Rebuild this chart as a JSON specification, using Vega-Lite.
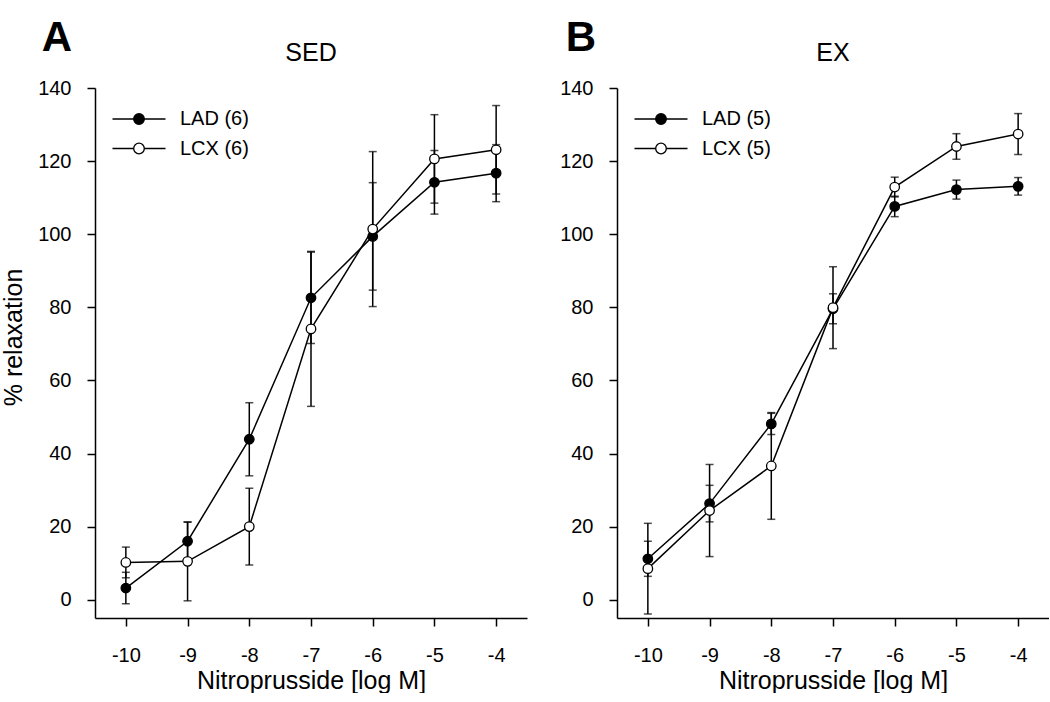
{
  "$schema": "https://vega.github.io/schema/vega-lite/v6.json",
  "padding": {"left": 1, "top": 17, "right": 0, "bottom": 0},
  "background": "white",
  "config": {
    "font": "Liberation Sans",
    "view": {"stroke": null},
    "axis": {
      "grid": false,
      "domainColor": "black",
      "domainWidth": 1.5,
      "tickColor": "black",
      "tickWidth": 1.5,
      "tickSize": 8,
      "labelFontSize": 20,
      "labelColor": "black",
      "labelFont": "Liberation Sans",
      "titleFont": "Liberation Sans",
      "titleFontSize": 25,
      "titleFontWeight": "normal",
      "titleColor": "black"
    },
    "title": {"font": "Liberation Sans", "color": "black"}
  },
  "data": {
    "values": [
      {"panel": "SED", "series": "LAD (6)", "logM": -10, "mean": 3.2, "lo": -1.1, "hi": 7.5},
      {"panel": "SED", "series": "LAD (6)", "logM": -9, "mean": 16.0, "lo": 10.8, "hi": 21.2},
      {"panel": "SED", "series": "LAD (6)", "logM": -8, "mean": 43.9, "lo": 33.9, "hi": 53.9},
      {"panel": "SED", "series": "LAD (6)", "logM": -7, "mean": 82.6, "lo": 70.1, "hi": 95.1},
      {"panel": "SED", "series": "LAD (6)", "logM": -6, "mean": 99.4, "lo": 84.7, "hi": 114.1},
      {"panel": "SED", "series": "LAD (6)", "logM": -5, "mean": 114.2, "lo": 105.5, "hi": 122.9},
      {"panel": "SED", "series": "LAD (6)", "logM": -4, "mean": 116.7, "lo": 108.9, "hi": 124.5},
      {"panel": "SED", "series": "LCX (6)", "logM": -10, "mean": 10.2, "lo": 6.0, "hi": 14.4},
      {"panel": "SED", "series": "LCX (6)", "logM": -9, "mean": 10.5, "lo": -0.3, "hi": 21.3},
      {"panel": "SED", "series": "LCX (6)", "logM": -8, "mean": 20.0, "lo": 9.5, "hi": 30.5},
      {"panel": "SED", "series": "LCX (6)", "logM": -7, "mean": 74.1, "lo": 52.9, "hi": 95.3},
      {"panel": "SED", "series": "LCX (6)", "logM": -6, "mean": 101.4, "lo": 80.2, "hi": 122.6},
      {"panel": "SED", "series": "LCX (6)", "logM": -5, "mean": 120.6, "lo": 108.5, "hi": 132.7},
      {"panel": "SED", "series": "LCX (6)", "logM": -4, "mean": 123.1, "lo": 111.0, "hi": 135.2},
      {"panel": "EX", "series": "LAD (5)", "logM": -10, "mean": 11.2, "lo": 6.4, "hi": 16.0},
      {"panel": "EX", "series": "LAD (5)", "logM": -9, "mean": 26.3, "lo": 21.3, "hi": 31.3},
      {"panel": "EX", "series": "LAD (5)", "logM": -8, "mean": 48.1, "lo": 45.2, "hi": 51.0},
      {"panel": "EX", "series": "LAD (5)", "logM": -7, "mean": 79.6, "lo": 75.5, "hi": 83.7},
      {"panel": "EX", "series": "LAD (5)", "logM": -6, "mean": 107.6, "lo": 104.8, "hi": 110.4},
      {"panel": "EX", "series": "LAD (5)", "logM": -5, "mean": 112.2, "lo": 109.6, "hi": 114.8},
      {"panel": "EX", "series": "LAD (5)", "logM": -4, "mean": 113.1, "lo": 110.7, "hi": 115.5},
      {"panel": "EX", "series": "LCX (5)", "logM": -10, "mean": 8.5, "lo": -3.9, "hi": 20.9},
      {"panel": "EX", "series": "LCX (5)", "logM": -9, "mean": 24.4, "lo": 11.8, "hi": 37.0},
      {"panel": "EX", "series": "LCX (5)", "logM": -8, "mean": 36.6, "lo": 22.0, "hi": 51.2},
      {"panel": "EX", "series": "LCX (5)", "logM": -7, "mean": 79.9, "lo": 68.7, "hi": 91.1},
      {"panel": "EX", "series": "LCX (5)", "logM": -6, "mean": 112.9, "lo": 110.2, "hi": 115.6},
      {"panel": "EX", "series": "LCX (5)", "logM": -5, "mean": 124.0, "lo": 120.5, "hi": 127.5},
      {"panel": "EX", "series": "LCX (5)", "logM": -4, "mean": 127.4, "lo": 121.8, "hi": 133.0}
    ]
  },
  "spacing": 32,
  "resolve": {"scale": {"fill": "independent"}, "legend": {"fill": "independent"}},
  "hconcat": [
    {
      "title": {"text": "A", "anchor": "start", "fontSize": 42, "fontWeight": "bold", "dx": 40, "dy": 23},
      "vconcat": [
        {
          "title": {"text": "SED", "anchor": "middle", "fontSize": 25, "fontWeight": "normal", "offset": 12},
          "width": 432,
          "height": 530,
          "transform": [{"filter": "datum.panel === 'SED'"}],
          "encoding": {
            "x": {"field": "logM", "type": "quantitative",
                  "scale": {"domain": [-10.5, -3.5], "nice": false, "zero": false},
                  "axis": {"values": [-10, -9, -8, -7, -6, -5, -4], "labelExpr": "'' + datum.value", "title": "Nitroprusside [log M]", "labelPadding": 19, "titlePadding": 3}}
          },
          "layer": [
            {"mark": {"type": "rule", "color": "black", "strokeWidth": 1.5},
             "encoding": {"y": {"field": "lo", "type": "quantitative", "scale": {"domain": [-5, 140], "nice": false, "zero": false},
                                "axis": {"values": [0, 10, 20, 30, 40, 50, 60, 70, 80, 90, 100, 110, 120, 130, 140], "labelExpr": "datum.value % 20 === 0 ? '' + datum.value : ''", "title": "% relaxation", "labelPadding": 16, "titlePadding": 11, "titleY": 249}},
                          "y2": {"field": "hi"}}},
            {"mark": {"type": "tick", "orient": "horizontal", "color": "black", "size": 8, "thickness": 1.5},
             "encoding": {"y": {"field": "lo", "type": "quantitative"}}},
            {"mark": {"type": "tick", "orient": "horizontal", "color": "black", "size": 8, "thickness": 1.5},
             "encoding": {"y": {"field": "hi", "type": "quantitative"}}},
            {"mark": {"type": "line", "color": "black", "strokeWidth": 1.5},
             "encoding": {"y": {"field": "mean", "type": "quantitative"}, "detail": {"field": "series"}}},
            {"mark": {"type": "point", "shape": "circle", "filled": true, "stroke": "black", "strokeWidth": 1.3, "size": 90, "opacity": 1},
             "encoding": {
               "y": {"field": "mean", "type": "quantitative"},
               "fill": {"field": "series", "type": "nominal",
                        "scale": {"domain": ["LAD (6)", "LCX (6)"], "range": ["black", "white"]},
                        "legend": {"title": null, "orient": "none", "legendX": 34, "legendY": 21, "padding": 0,
                                   "symbolType": "M-5.3,0L-1.06,0M1.06,0L5.3,0M-1.06,0A1.06,1.06,0,1,0,1.06,0A1.06,1.06,0,1,0,-1.06,0Z",
                                   "symbolSize": 100, "symbolStrokeColor": "black", "symbolStrokeWidth": 1.3, "symbolOpacity": 1,
                                   "labelFontSize": 20, "labelColor": "black", "labelOffset": 31, "rowPadding": 9.5}}
             }}
          ]
        }
      ]
    },
    {
      "title": {"text": "B", "anchor": "start", "fontSize": 42, "fontWeight": "bold", "dx": 6, "dy": 23},
      "vconcat": [
        {
          "title": {"text": "EX", "anchor": "middle", "fontSize": 25, "fontWeight": "normal", "offset": 12},
          "width": 432,
          "height": 530,
          "transform": [{"filter": "datum.panel === 'EX'"}],
          "encoding": {
            "x": {"field": "logM", "type": "quantitative",
                  "scale": {"domain": [-10.5, -3.5], "nice": false, "zero": false},
                  "axis": {"values": [-10, -9, -8, -7, -6, -5, -4], "labelExpr": "'' + datum.value", "title": "Nitroprusside [log M]", "labelPadding": 19, "titlePadding": 3}}
          },
          "layer": [
            {"mark": {"type": "rule", "color": "black", "strokeWidth": 1.5},
             "encoding": {"y": {"field": "lo", "type": "quantitative", "scale": {"domain": [-5, 140], "nice": false, "zero": false},
                                "axis": {"values": [0, 10, 20, 30, 40, 50, 60, 70, 80, 90, 100, 110, 120, 130, 140], "labelExpr": "datum.value % 20 === 0 ? '' + datum.value : ''", "title": null, "labelPadding": 16}},
                          "y2": {"field": "hi"}}},
            {"mark": {"type": "tick", "orient": "horizontal", "color": "black", "size": 8, "thickness": 1.5},
             "encoding": {"y": {"field": "lo", "type": "quantitative"}}},
            {"mark": {"type": "tick", "orient": "horizontal", "color": "black", "size": 8, "thickness": 1.5},
             "encoding": {"y": {"field": "hi", "type": "quantitative"}}},
            {"mark": {"type": "line", "color": "black", "strokeWidth": 1.5},
             "encoding": {"y": {"field": "mean", "type": "quantitative"}, "detail": {"field": "series"}}},
            {"mark": {"type": "point", "shape": "circle", "filled": true, "stroke": "black", "strokeWidth": 1.3, "size": 90, "opacity": 1},
             "encoding": {
               "y": {"field": "mean", "type": "quantitative"},
               "fill": {"field": "series", "type": "nominal",
                        "scale": {"domain": ["LAD (5)", "LCX (5)"], "range": ["black", "white"]},
                        "legend": {"title": null, "orient": "none", "legendX": 34, "legendY": 21, "padding": 0,
                                   "symbolType": "M-5.3,0L-1.06,0M1.06,0L5.3,0M-1.06,0A1.06,1.06,0,1,0,1.06,0A1.06,1.06,0,1,0,-1.06,0Z",
                                   "symbolSize": 100, "symbolStrokeColor": "black", "symbolStrokeWidth": 1.3, "symbolOpacity": 1,
                                   "labelFontSize": 20, "labelColor": "black", "labelOffset": 31, "rowPadding": 9.5}}
             }}
          ]
        }
      ]
    }
  ]
}
